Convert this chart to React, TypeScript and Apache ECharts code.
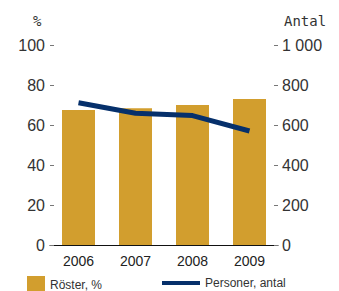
import React, { useEffect, useRef } from "react";
import * as echarts from "echarts";

const categories = ["2006", "2007", "2008", "2009"];
const rosterPct = [67.5, 68.4, 70, 73];
const personerAntal = [711, 659, 647, 570];
const leftTicks = [0, 20, 40, 60, 80, 100];
const rightTicks = [0, 200, 400, 600, 800, 1000];

export default function App() {
  const ref = useRef<HTMLDivElement>(null);
  useEffect(() => {
    document.body.style.margin = "0";
    if (!ref.current) return;
    const chart = echarts.init(ref.current, null, { renderer: "svg" });
    const labelFont = "Liberation Sans";
    chart.setOption({
      animation: false,
      backgroundColor: "#fff",
      grid: { left: 50, right: 61, top: 45, bottom: 46, containLabel: false },
      legend: [
        {
          data: [{ name: "Röster, %", icon: "rect" }],
          left: 27,
          top: 276,
          padding: 0,
          itemWidth: 18,
          itemHeight: 18,
          itemGap: 0,
          textStyle: { fontFamily: labelFont, fontSize: 12, color: "#333" },
        },
        {
          data: [{ name: "Personer, antal", icon: "rect" }],
          left: 162,
          top: 277,
          padding: 0,
          itemWidth: 38,
          itemHeight: 4,
          textStyle: { fontFamily: labelFont, fontSize: 12, color: "#333" },
        },
      ],
      graphic: [
        {
          type: "text",
          left: 33,
          top: 14,
          style: { text: "%", font: "14px 'DejaVu Sans Mono'", fill: "#333" },
        },
        {
          type: "text",
          left: 284,
          top: 14,
          style: { text: "Antal", font: "14px 'DejaVu Sans Mono'", fill: "#333" },
        },
      ],
      xAxis: {
        type: "category",
        data: categories,
        axisLine: { show: true, lineStyle: { color: "#111", width: 1 } },
        axisTick: { show: false },
        axisLabel: { fontFamily: labelFont, fontSize: 14, color: "#222", margin: 9 },
      },
      yAxis: [
        {
          type: "value",
          min: 0,
          max: 100,
          interval: 20,
          position: "left",
          axisLine: { show: false },
          axisTick: { show: true, inside: true, length: 4, lineStyle: { color: "#777" } },
          splitLine: { show: false },
          axisLabel: {
            fontFamily: labelFont,
            fontSize: 16,
            color: "#333",
            margin: 5,
            formatter: (v: number) => (leftTicks.includes(v) ? String(v) : ""),
          },
        },
        {
          type: "value",
          min: 0,
          max: 1000,
          interval: 200,
          position: "right",
          axisLine: { show: false },
          axisTick: { show: true, inside: true, length: 4, lineStyle: { color: "#777" } },
          splitLine: { show: false },
          axisLabel: {
            fontFamily: labelFont,
            fontSize: 16,
            color: "#333",
            margin: 4,
            formatter: (v: number) =>
              rightTicks.includes(v) ? (v >= 1000 ? "1 000" : String(v)) : "",
          },
        },
      ],
      series: [
        {
          name: "Röster, %",
          type: "bar",
          data: rosterPct,
          barWidth: 33,
          itemStyle: { color: "#D29E2E" },
          yAxisIndex: 0,
        },
        {
          name: "Personer, antal",
          type: "line",
          data: personerAntal,
          yAxisIndex: 1,
          symbol: "none",
          lineStyle: { color: "#06306B", width: 5 },
          itemStyle: { color: "#06306B" },
        },
      ],
    });
    return () => chart.dispose();
  }, []);
  return <div ref={ref} style={{ width: 339, height: 291 }} />;
}
